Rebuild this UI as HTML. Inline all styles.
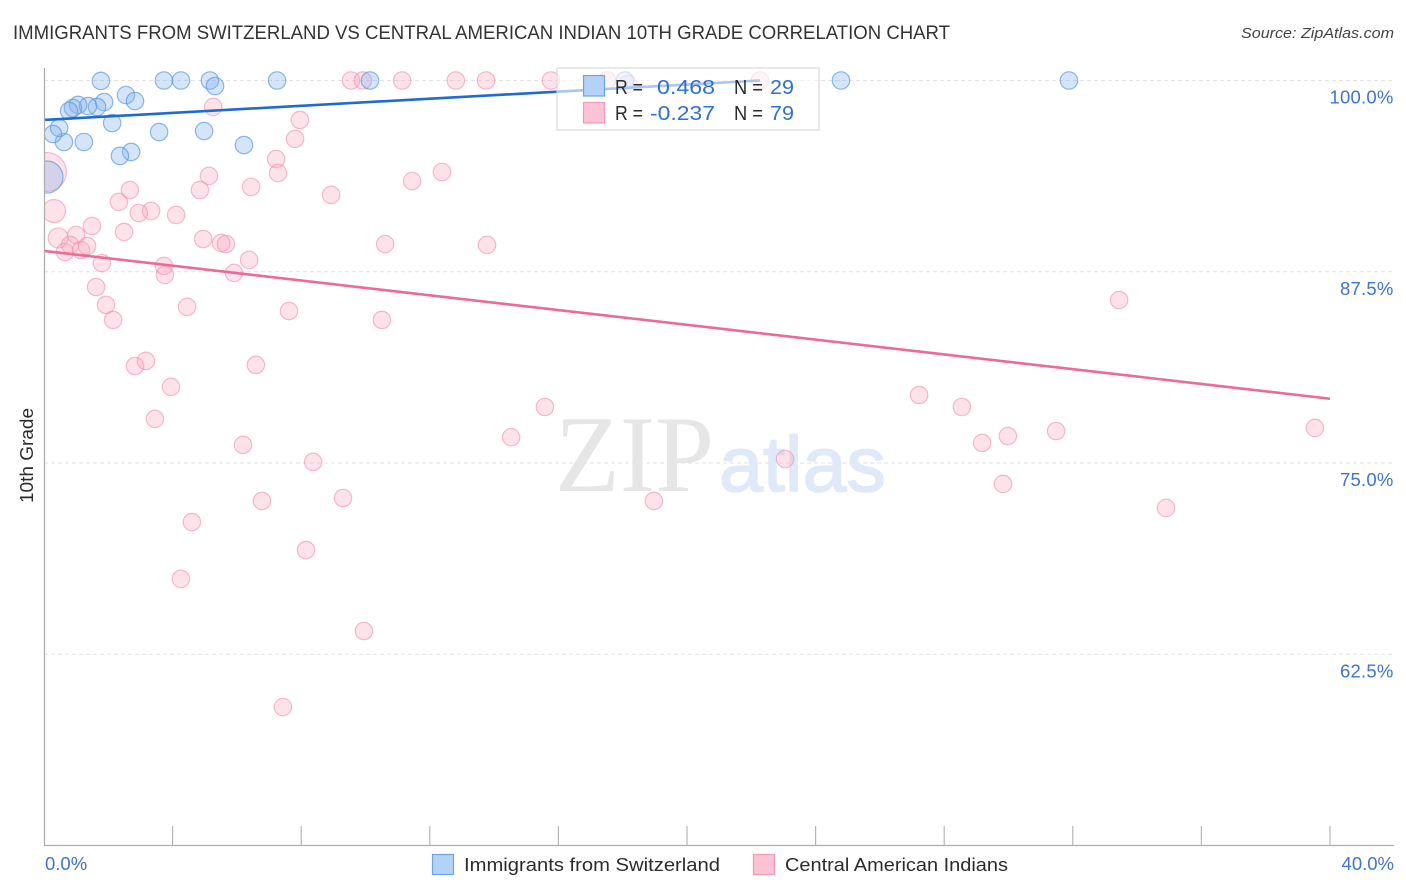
<!DOCTYPE html>
<html lang="en">
<head>
<meta charset="utf-8">
<title>Immigrants from Switzerland vs Central American Indian 10th Grade Correlation Chart</title>
<style>
html,body{margin:0;padding:0;background:#fff;width:1406px;height:892px;overflow:hidden}
svg{display:block;font-family:"Liberation Sans",sans-serif}
</style>
</head>
<body>
<svg id="chart" xmlns="http://www.w3.org/2000/svg" width="1406" height="892" viewBox="0 0 1406 892">
  <defs><clipPath id="plot-clip"><rect x="45" y="60" width="1349" height="785"/></clipPath></defs>
  <text x="13" y="39" font-size="19" fill="#333" textLength="937" lengthAdjust="spacingAndGlyphs">IMMIGRANTS FROM SWITZERLAND VS CENTRAL AMERICAN INDIAN 10TH GRADE CORRELATION CHART</text>
  <text x="1241" y="38" font-size="15" font-style="italic" fill="#444" textLength="153" lengthAdjust="spacingAndGlyphs">Source: ZipAtlas.com</text>

  <g id="grid"></g>

  <g>
    <text x="555" y="491" font-family="'Liberation Serif',serif" font-size="109" fill="#e6e6e6" textLength="159" lengthAdjust="spacingAndGlyphs">ZIP</text>
    <text x="719" y="491" font-size="78" fill="#dfe9f8" stroke="#dfe9f8" stroke-width="1.5" textLength="167" lengthAdjust="spacingAndGlyphs">atlas</text>
  </g>

  <g id="pink-dots" clip-path="url(#plot-clip)"></g>
  <g id="blue-dots" clip-path="url(#plot-clip)"></g>
  <rect x="0" y="60" width="44.5" height="785" fill="#fff"/>
  <g id="trends"></g>

  <g id="axes">
    <line x1="44.5" y1="68" x2="44.5" y2="846" stroke="#aeaeae" stroke-width="1.3"/>
    <line x1="44" y1="845.5" x2="1394" y2="845.5" stroke="#aeaeae" stroke-width="1.3"/>
  </g>
  <text transform="translate(33,503) rotate(-90)" font-size="18" fill="#2b2b2b" textLength="95" lengthAdjust="spacingAndGlyphs">10th Grade</text>

  <g>
    <rect x="557" y="68" width="262" height="62" fill="#fff" fill-opacity="0.62" stroke="#d8d8d8" stroke-width="1.2"/>
    <rect x="583.5" y="75.5" width="21" height="20.5" fill="#b4d1f7" stroke="#6ea3e4" stroke-width="1.2"/>
    <rect x="583.5" y="102.5" width="21" height="20.5" fill="#fdc2d3" stroke="#f09ab5" stroke-width="1.2"/>
    <g font-size="20">
      <text x="615" y="94" fill="#2b2b2b" textLength="28" lengthAdjust="spacingAndGlyphs">R =</text>
      <text x="657" y="94" fill="#2f6fd6" textLength="58" lengthAdjust="spacingAndGlyphs">0.468</text>
      <text x="734" y="94" fill="#2b2b2b" textLength="29" lengthAdjust="spacingAndGlyphs">N =</text>
      <text x="770" y="94" fill="#2f6fd6" textLength="24" lengthAdjust="spacingAndGlyphs">29</text>
      <text x="615" y="120" fill="#2b2b2b" textLength="28" lengthAdjust="spacingAndGlyphs">R =</text>
      <text x="650" y="120" fill="#2f6fd6" textLength="65" lengthAdjust="spacingAndGlyphs">-0.237</text>
      <text x="734" y="120" fill="#2b2b2b" textLength="29" lengthAdjust="spacingAndGlyphs">N =</text>
      <text x="770" y="120" fill="#2f6fd6" textLength="24" lengthAdjust="spacingAndGlyphs">79</text>
    </g>
  </g>

  <g>
    <rect x="432.5" y="854.5" width="21" height="20" fill="#b4d1f7" stroke="#6ea3e4" stroke-width="1.2"/>
    <text x="464" y="871" font-size="18.5" fill="#2b2b2b" textLength="256" lengthAdjust="spacingAndGlyphs">Immigrants from Switzerland</text>
    <rect x="753.5" y="854.5" width="21" height="20" fill="#fdc2d3" stroke="#f09ab5" stroke-width="1.2"/>
    <text x="785" y="871" font-size="18.5" fill="#2b2b2b" textLength="223" lengthAdjust="spacingAndGlyphs">Central American Indians</text>
  </g>
</svg>

<script>
// ---- chart data (percent values) ----
const yTickValues = [100, 87.5, 75, 62.5];
const yTickLabels = ["100.0%", "87.5%", "75.0%", "62.5%"];
const xTickValues = [0, 4, 8, 12, 16, 20, 24, 28, 32, 36, 40];
const xEndLabels = ["0.0%", "40.0%"];

const blueX = [1.77,3.73,4.26,5.16,5.32,7.25,2.55,2.83,1.87,1.65,1.37,1.06,0.90,0.78,2.12,3.58,4.98,6.22,2.71,2.36,1.24,0.62,0.47,0.28,0.09,10.14,18.07,24.79,31.88];
const blueY = [99.97,100,100,100,99.64,100,99.05,98.66,98.59,98.27,98.33,98.40,98.20,98.01,97.22,96.63,96.70,95.78,95.33,95.07,95.98,95.98,96.90,96.50,93.69,100,100,100,100];
const blueWeights = {24: 3.4};

const pinkX = [9.55,9.92,11.14,12.81,13.75,15.77,18.16,17.51,22.27,5.26,7.96,7.81,7.22,7.28,5.13,4.85,6.44,8.93,11.45,12.38,2.67,2.33,3.33,2.95,4.11,1.49,2.49,4.95,5.51,5.66,10.61,13.78,0.31,0.44,1.00,0.81,0.65,1.15,1.34,1.80,3.73,3.76,5.91,6.38,0.09,1.62,1.93,2.15,4.45,7.62,10.51,2.83,3.17,6.59,3.95,3.45,6.19,8.37,9.30,6.78,4.60,8.15,4.26,9.95,7.43,33.44,27.22,28.55,29.18,29.98,31.48,29.83,34.90,39.53,23.05,18.97,14.53,15.58];
const pinkY = [100,100,100,100,100,100,99.77,100,100,98.27,97.42,96.18,94.87,93.95,93.76,92.84,93.04,92.52,93.43,94.02,92.84,92.06,91.47,91.34,91.21,90.49,90.10,89.64,89.38,89.31,89.31,89.25,91.47,89.71,89.90,89.25,88.79,88.92,89.18,88.07,87.88,87.29,87.42,88.27,94.02,86.50,85.33,84.35,85.20,84.93,84.35,81.34,81.67,81.41,79.97,77.88,76.18,75.07,72.71,72.52,71.14,69.31,67.42,64.02,59.05,85.65,79.44,78.66,76.31,76.76,77.09,73.63,72.06,77.29,75.26,72.52,76.69,78.66];
const pinkWeights = {32: 1.75, 33: 1.32, 44: 5.0};

const blueTrendX = [0, 22.27];
const blueTrendY = [97.42, 100];
const pinkTrendX = [0, 40];
const pinkTrendY = [88.86, 79.2];

// ---- axis functions ----
const xScale = v => 44 + v * 32.15;
const yScale = v => 80.5 + (100 - v) * 15.3;
const baseRadius = 8.7;
const SVG_NS = "http://www.w3.org/2000/svg";

function make(tag, parent, attrs, text) {
  const el = document.createElementNS(SVG_NS, tag);
  for (const k in attrs) el.setAttribute(k, attrs[k]);
  if (text !== undefined) el.textContent = text;
  document.getElementById(parent).appendChild(el);
  return el;
}

yTickValues.forEach((v, i) => {
  const g = make("line", "grid", {x1: 44, x2: 1394, y1: yScale(v), y2: yScale(v), stroke: "#e2e2e2", "stroke-width": 1, "stroke-dasharray": "4 3"});
  
  
  const t = make("text", "axes", {x: 1393.5, y: yScale(v) + 23, "text-anchor": "end", "font-size": 18.5, "letter-spacing": 0.2, fill: "#3f74d0"}, yTickLabels[i]);
  
  
});

xTickValues.forEach(v => {
  if (v === 0 || v > 40) return;
  const tick = make("line", "axes", {x1: xScale(v), x2: xScale(v), y1: 826, y2: 845, stroke: "#b5b5b5", "stroke-width": 1.2});
  
  
});

const xStart = make("text", "axes", {x: 45, y: 870, "font-size": 18.5, fill: "#3f74d0"}, xEndLabels[0]);


const xEnd = make("text", "axes", {x: 1394, y: 870, "text-anchor": "end", "font-size": 18.5, fill: "#3f74d0"}, xEndLabels[1]);



pinkX.forEach((v, i) => {
  const c = make("circle", "pink-dots", {cx: xScale(v), cy: yScale(pinkY[i]), r: baseRadius * Math.sqrt(pinkWeights[i] || 1), fill: "#fb9fbb", "fill-opacity": 0.3, stroke: "#ee8fac", "stroke-opacity": 0.6, "stroke-width": 1.2});
  
  
});

blueX.forEach((v, i) => {
  const c = make("circle", "blue-dots", {cx: xScale(v), cy: yScale(blueY[i]), r: baseRadius * Math.sqrt(blueWeights[i] || 1), fill: "#7fb0ee", "fill-opacity": 0.33, stroke: "#5c98e2", "stroke-opacity": 0.7, "stroke-width": 1.2});
  
  
});

const blueLine = make("line", "trends", {x1: xScale(blueTrendX[0]), y1: yScale(blueTrendY[0]), x2: xScale(blueTrendX[1]), y2: yScale(blueTrendY[1]), stroke: "#1f6bd0", "stroke-width": 2.6});


const pinkLine = make("line", "trends", {x1: xScale(pinkTrendX[0]), y1: yScale(pinkTrendY[0]), x2: xScale(pinkTrendX[1]), y2: yScale(pinkTrendY[1]), stroke: "#ec6a97", "stroke-width": 2.6});


</script>
</body>
</html>
